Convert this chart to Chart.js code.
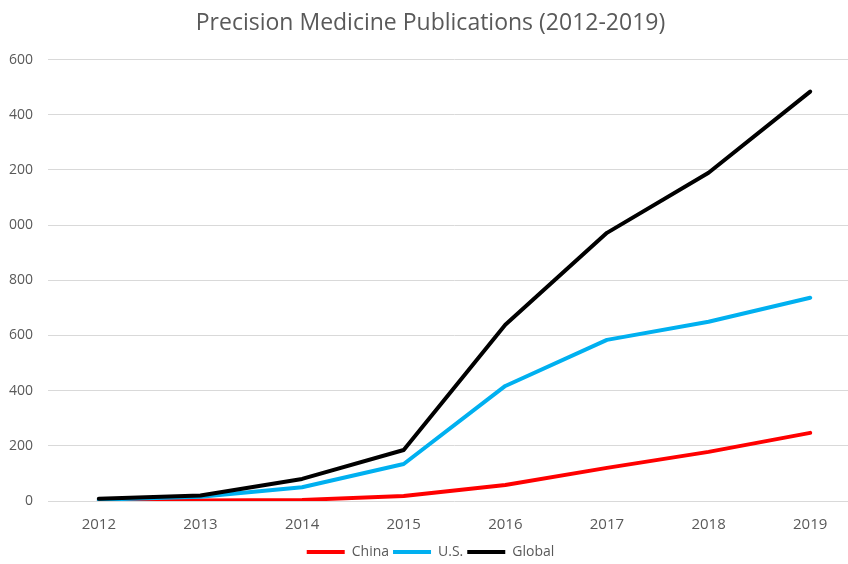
<!DOCTYPE html>
<html>
<head>
<meta charset="utf-8">
<script src="https://cdn.jsdelivr.net/npm/chart.js@4/dist/chart.umd.min.js"></script>
<style>
  html, body { margin: 0; padding: 0; background: #fff; overflow: hidden; }
  #clip { position: absolute; left: 8px; top: 0; width: 840px; height: 564px; overflow: hidden; }
  #chart { margin-left: -8px; display: block; }
</style>
</head>
<body>
<div id="clip"><canvas id="chart" width="880" height="569"></canvas></div>
<script>
const years = ['2012', '2013', '2014', '2015', '2016', '2017', '2018', '2019'];
const china = [1, 2, 4, 18, 58, 120, 178, 247];
const us = [5, 15, 50, 134, 417, 584, 650, 737];
const global = [8, 20, 80, 185, 639, 972, 1190, 1484];
const yTicks = [0, 200, 400, 600, 800, 1000, 1200, 1400, 1600];

const textColor = '#595959';
const gridColor = '#d9d9d9';

function line(label, data, color, order) {
    return {
        label: label,
        data: data,
        borderColor: color,
        backgroundColor: color,
        borderWidth: 4,
        borderCapStyle: 'round',
        borderJoinStyle: 'round',
        pointRadius: 0,
        pointStyle: 'line',
        tension: 0,
        order: order
    };
}

const ctx = document.getElementById('chart').getContext('2d');

new Chart(ctx, {
    type: 'line',
    data: {
        labels: years,
        datasets: [
            line('China', china, '#ff0000', 3),
            line('U.S.', us, '#00b0f0', 2),
            line('Global', global, '#000000', 1)
        ]
    },
    options: {
        responsive: false,
        animation: false,
        devicePixelRatio: 1,
        layout: { padding: { left: 0, right: 19, top: 0, bottom: 0 } },
        plugins: {
            title: {
                display: true,
                text: 'Precision Medicine Publications (2012-2019)',
                color: textColor,
                font: { family: "'Open Sans'", size: 23, weight: 'normal' },
                padding: { top: 10, bottom: 22 }
            },
            legend: {
                position: 'bottom',
                labels: {
                    usePointStyle: true,
                    pointStyleWidth: 38,
                    boxHeight: 10,
                    padding: 4,
                    color: textColor,
                    font: { family: "'Open Sans'", size: 14 },
                    sort: (a, b) => a.datasetIndex - b.datasetIndex
                }
            },
            tooltip: { enabled: false }
        },
        scales: {
            x: {
                offset: true,
                grid: { display: false },
                border: { display: false },
                ticks: {
                    color: textColor,
                    padding: 7,
                    maxRotation: 0,
                    font: { family: "'Open Sans'", size: 15 }
                }
            },
            y: {
                min: 0,
                max: 1600,
                afterBuildTicks: scale => { scale.ticks = yTicks.map(v => ({ value: v })); },
                afterFit: scale => { scale.width = 48; },
                grid: { color: gridColor, lineWidth: 1, drawTicks: false },
                border: { display: false },
                ticks: {
                    color: textColor,
                    padding: 15,
                    callback: v => String(v),
                    font: { family: "'Open Sans'", size: 14 }
                }
            }
        }
    }
});
</script>
</body>
</html>
